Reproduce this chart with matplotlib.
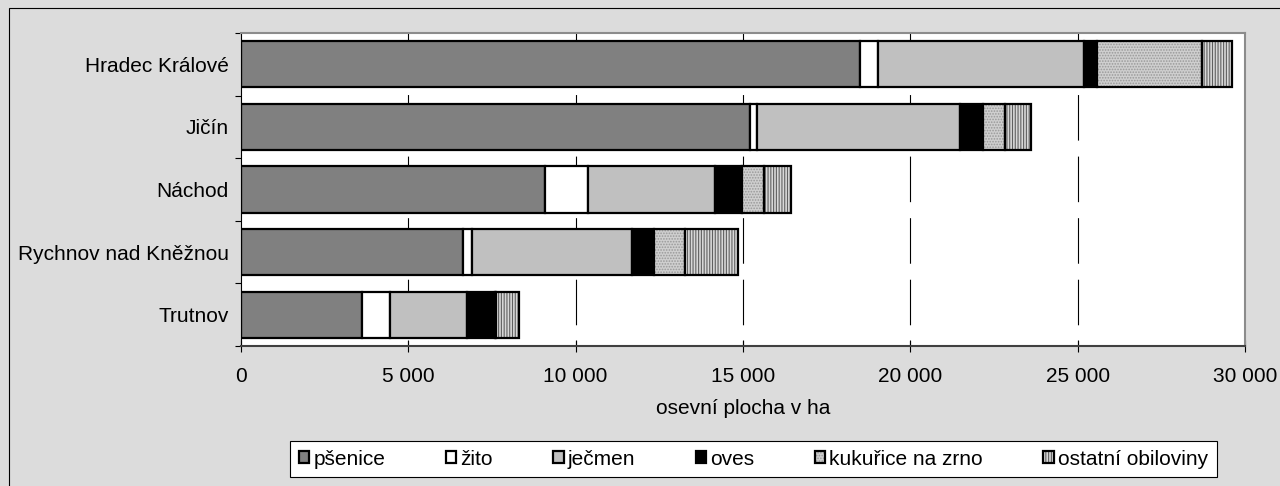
import matplotlib.pyplot as plt
import matplotlib.patches as mpatches
from matplotlib.colors import to_rgba

plt.rcParams['font.family'] = ['Liberation Sans', 'DejaVu Sans']
plt.rcParams['font.size'] = 15
plt.rcParams['hatch.linewidth'] = 0.8

# okresy (shora dolu) a plodiny
districts = ["Hradec Králové", "Jičín", "Náchod", "Rychnov nad Kněžnou", "Trutnov"]
crops = ["pšenice", "žito", "ječmen", "oves", "kukuřice na zrno", "ostatní obiloviny"]

# osevni plocha v ha, odhad z obrazku
psenice = [18490, 15200, 9080, 6640, 3630]
zito = [540, 230, 1290, 250, 820]
jecmen = [6150, 6050, 3800, 4800, 2310]
oves = [390, 690, 810, 650, 830]
kukurice = [3140, 660, 650, 930, 40]
ostatni = [900, 770, 800, 1590, 670]

x_ticks = [0, 5000, 10000, 15000, 20000, 25000, 30000]

series = [psenice, zito, jecmen, oves, kukurice, ostatni]
face = ['#808080', 'white', '#c0c0c0', 'black', '#cfcfcf', '#d8d8d8']
hatches = [None, None, None, None, '......', '||||||']
hatch_col = ['black', 'black', 'black', 'black', '#999999', '#606060']

fig = plt.figure(figsize=(12.8, 4.86), dpi=100, facecolor='#dcdcdc')
ax = fig.add_axes([241/1280, 1 - 346/486, (1245 - 241)/1280, (346 - 33)/486])
ax.set_facecolor('white')

ypos = list(range(len(districts)))
left = [0] * len(districts)
handles = []
for vals, fc, h, hc, name in zip(series, face, hatches, hatch_col, crops):
    bars = ax.barh(ypos, vals, left=left, height=0.735, color=fc, hatch=h,
                   edgecolor='black', linewidth=1.6, zorder=2, label=name)
    if h:
        for p in bars:
            if hasattr(p, 'set_hatchcolor'):
                p.set_hatchcolor(hc)
            else:
                p._hatch_color = to_rgba(hc)
    handles.append(bars[0])
    left = [a + b for a, b in zip(left, vals)]

ax.set_xlim(0, 30000)
ax.set_ylim(len(districts) - 0.5, -0.5)

# svisle carkovane mrizky (od horniho okraje dolu)
ax.vlines(x_ticks[1:-1], -0.5, len(districts) - 0.5, colors='black',
          linewidth=0.8, linestyles=[(0, (41, 14.4))], zorder=0.5)

ax.set_xticks(x_ticks)
ax.set_xticklabels([f"{t:,}".replace(",", " ") for t in x_ticks])
ax.tick_params(axis='x', direction='inout', length=8.6, width=0.8, pad=11)

ax.set_yticks(ypos)
ax.set_yticklabels(districts)
ax.tick_params(axis='y', which='major', length=0, pad=9)
ax.set_yticks([y - 0.5 for y in range(len(districts) + 1)], minor=True)
ax.tick_params(axis='y', which='minor', direction='out', length=4.3, width=0.8)

for s in ['top', 'right']:
    ax.spines[s].set_color('#8c8c8c')
    ax.spines[s].set_linewidth(1.5)
ax.spines['left'].set_color('black')
ax.spines['left'].set_linewidth(0.8)
ax.spines['bottom'].set_color('#404040')
ax.spines['bottom'].set_linewidth(1.5)

ax.set_xlabel("osevní plocha v ha", labelpad=9)

leg = fig.legend(handles, crops, ncol=6, loc='center',
                 bbox_to_anchor=(753.5/1280, 1 - 459/486), frameon=True,
                 fancybox=False, edgecolor='black', framealpha=1,
                 handlelength=0.5, handleheight=0.5, handletextpad=0.2,
                 columnspacing=2.9, borderpad=0.4)
leg.get_frame().set_linewidth(0.8)

# ramecek grafu
fig.add_artist(mpatches.Rectangle((8.5/1280, -0.05), 1.2, (486 - 8.5)/486 + 0.05,
                                  transform=fig.transFigure, fill=False,
                                  edgecolor='black', linewidth=0.8, clip_on=False))

fig.savefig("out.png", dpi=100, facecolor=fig.get_facecolor())
